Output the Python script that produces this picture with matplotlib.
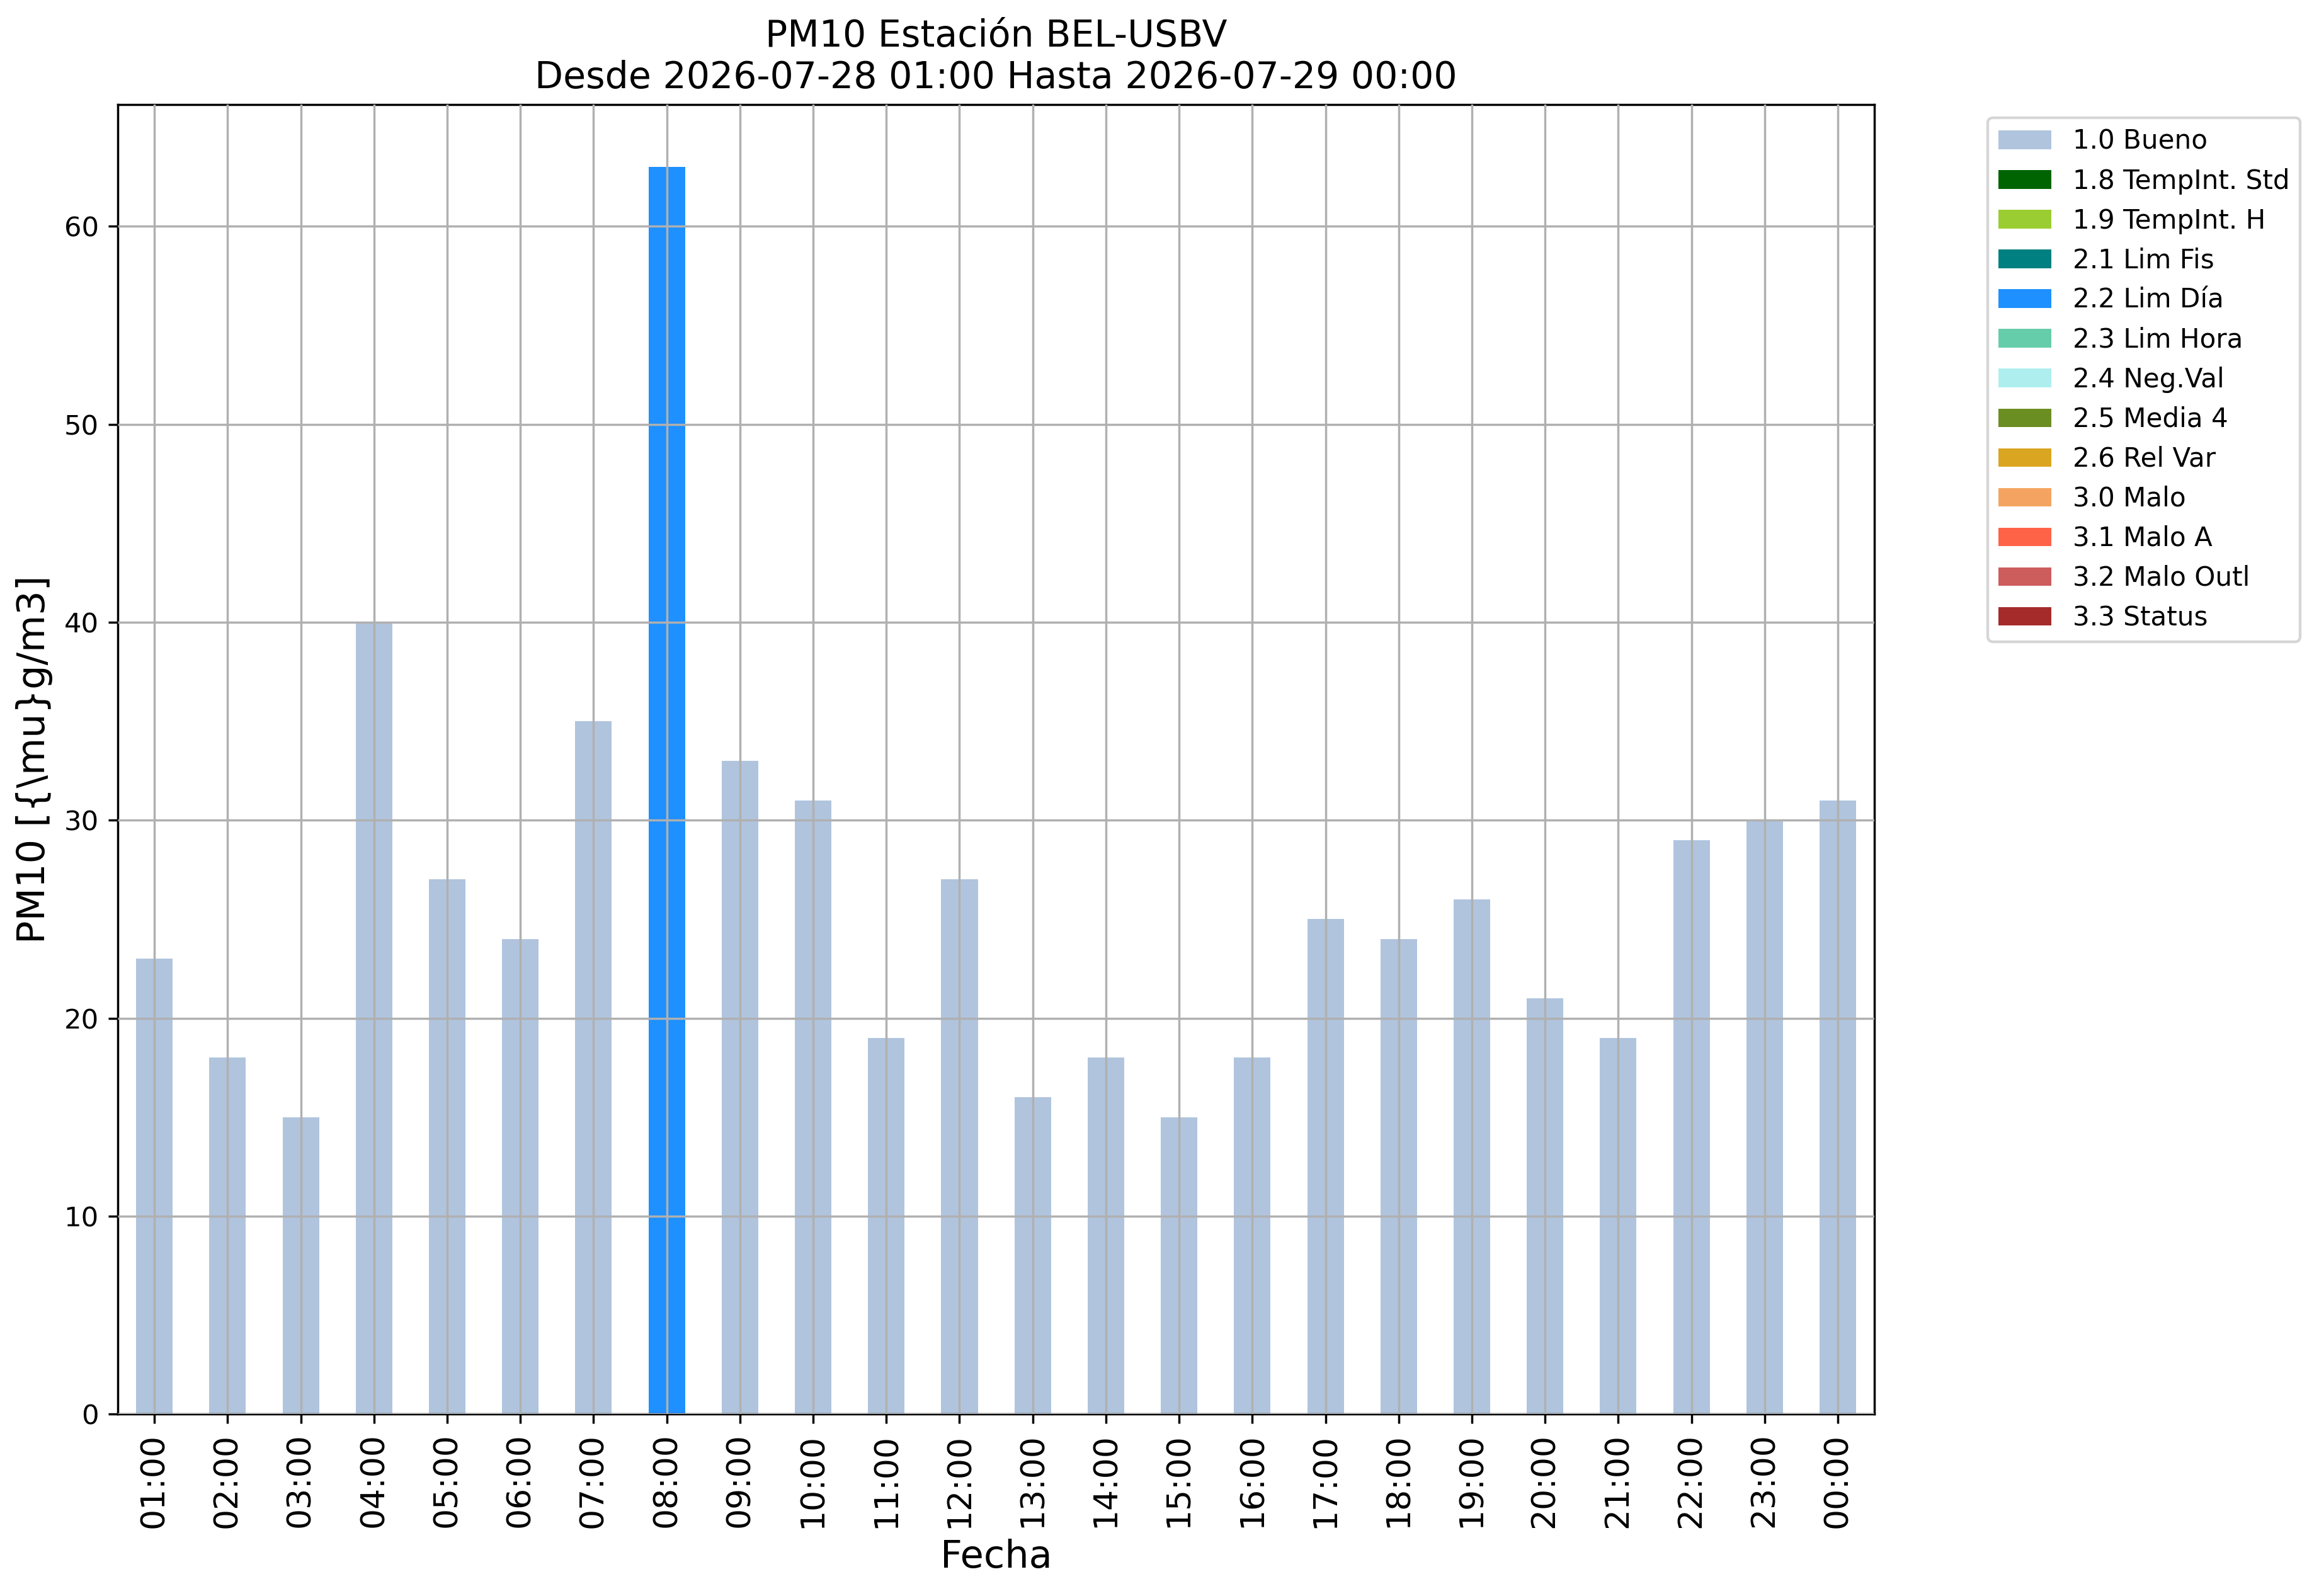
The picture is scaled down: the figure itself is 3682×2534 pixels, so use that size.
import numpy as np
import matplotlib
matplotlib.use("Agg")
import matplotlib.pyplot as plt

# hourly PM10 values and their validation flag
hours = ["01:00", "02:00", "03:00", "04:00", "05:00", "06:00", "07:00", "08:00",
         "09:00", "10:00", "11:00", "12:00", "13:00", "14:00", "15:00", "16:00",
         "17:00", "18:00", "19:00", "20:00", "21:00", "22:00", "23:00", "00:00"]
pm10 = [23, 18, 15, 40, 27, 24, 35, 63, 33, 31, 19, 27,
        16, 18, 15, 18, 25, 24, 26, 21, 19, 29, 30, 31]
flags = ["1.0", "1.0", "1.0", "1.0", "1.0", "1.0", "1.0", "2.2",
         "1.0", "1.0", "1.0", "1.0", "1.0", "1.0", "1.0", "1.0",
         "1.0", "1.0", "1.0", "1.0", "1.0", "1.0", "1.0", "1.0"]

flag_codes = ["1.0", "1.8", "1.9", "2.1", "2.2", "2.3", "2.4",
              "2.5", "2.6", "3.0", "3.1", "3.2", "3.3"]
flag_names = ["1.0 Bueno", "1.8 TempInt. Std", "1.9 TempInt. H", "2.1 Lim Fis",
              "2.2 Lim Día", "2.3 Lim Hora", "2.4 Neg.Val", "2.5 Media 4",
              "2.6 Rel Var", "3.0 Malo", "3.1 Malo A", "3.2 Malo Outl", "3.3 Status"]
flag_colors = ["lightsteelblue", "darkgreen", "yellowgreen", "teal", "dodgerblue",
               "mediumaquamarine", "paleturquoise", "olivedrab", "goldenrod",
               "sandybrown", "tomato", "indianred", "brown"]

dpi = 312
fig = plt.figure(figsize=(3682 / dpi, 2534 / dpi), dpi=dpi)
ax = fig.add_axes([0.0508, 0.1140, 0.8083 - 0.0508, 0.9345 - 0.1140])

x = np.arange(len(hours))
vals = np.array(pm10, dtype=float)
fl = np.array(flags)
bottom = np.zeros(len(hours))
for code, name, col in zip(flag_codes, flag_names, flag_colors):
    h = np.where(fl == code, vals, 0.0)
    ax.bar(x, h, width=0.5, bottom=bottom, color=col, label=name, linewidth=0)
    bottom += h

ax.set_xlim(-0.5, len(hours) - 0.5)
ax.set_ylim(0, max(pm10) * 1.05)
ax.set_xticks(x)
ax.set_xticklabels(hours, rotation=90, fontsize=12)
ax.tick_params(axis="y", labelsize=10)
ax.grid(True)
ax.set_axisbelow(False)

ax.set_xlabel("Fecha", fontsize=14)
ax.set_ylabel("PM10 [{\\mu}g/m3]", fontsize=14)
ax.set_title("PM10 Estación BEL-USBV\nDesde 2026-07-28 01:00 Hasta 2026-07-29 00:00",
             fontsize=13.5)
ax.legend(bbox_to_anchor=(1.057, 1), loc="upper left", fontsize=9.7)

fig.savefig("out.png", dpi=dpi)
